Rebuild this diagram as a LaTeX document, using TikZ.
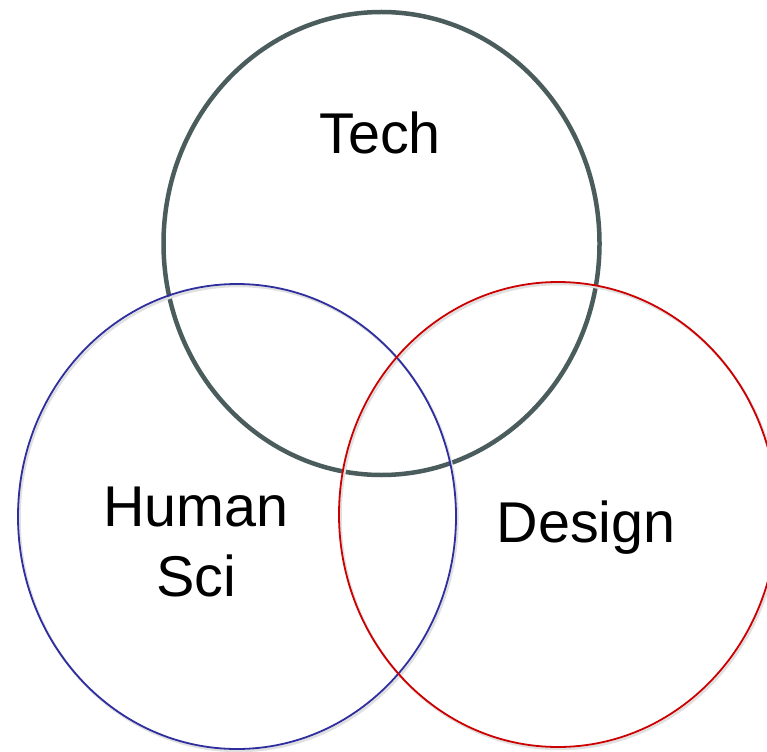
\documentclass[tikz,border=0pt]{standalone}
\usepackage{fontspec}
\setmainfont{Liberation Sans}
\definecolor{techgray}{HTML}{4B5C5C}
\definecolor{humblue}{HTML}{2E2E9E}
\definecolor{desred}{HTML}{CC0000}
\tikzset{
  label text/.style={inner sep=0pt, font=\fontsize{57.5}{70}\selectfont, text=black},
  thin ring/.style={line width=1.8pt},
  ring shadow/.style={line width=2.5pt, draw=black!12, shift={(1.5pt,-2pt)}}
}
\begin{document}
\begin{tikzpicture}[x=1pt,y=1pt]
\useasboundingbox[fill=white] (0,0) rectangle (767,-751);
% Tech circle
\draw[line width=4.5pt, draw=techgray] (381.5,-243.5) ellipse [x radius=218, y radius=231.5];
% shadows
\draw[ring shadow] (237,-516.5) ellipse [x radius=219, y radius=232.5];
\draw[ring shadow] (558,-514.5) ellipse [x radius=219, y radius=232.5];
% Human Sci circle
\draw[thin ring, draw=humblue] (237,-516.5) ellipse [x radius=219, y radius=232.5];
% Design circle
\draw[thin ring, draw=desred] (558,-514.5) ellipse [x radius=219, y radius=232.5];
% labels
\node[label text, anchor=base] (tech) at (380,-154) {Tech};
\node[label text, anchor=north, align=center] (human) at (196,-487) {Human\\Sci};
\node[label text, anchor=base] (design) at (586,-542) {Design};
\end{tikzpicture}
\end{document}
